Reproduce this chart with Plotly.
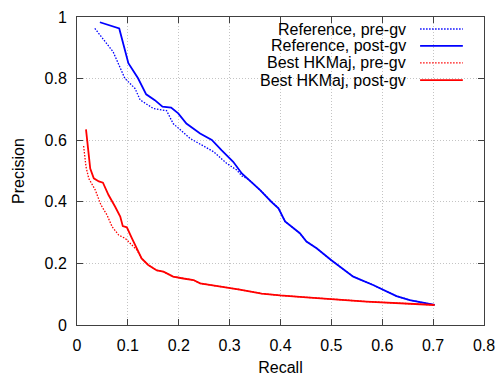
import plotly.graph_objects as go

# Precision/recall curves
ref_post_recall = [0.045, 0.083, 0.101, 0.120, 0.136, 0.153, 0.168, 0.185, 0.199, 0.215,
                   0.242, 0.265, 0.284, 0.307, 0.324, 0.337, 0.360, 0.382, 0.396, 0.409,
                   0.418, 0.438, 0.451, 0.471, 0.500, 0.543, 0.582, 0.602, 0.628, 0.654, 0.703]
ref_post_prec = [0.983, 0.963, 0.850, 0.801, 0.749, 0.730, 0.709, 0.706, 0.687, 0.654,
                 0.622, 0.601, 0.568, 0.530, 0.492, 0.473, 0.438, 0.400, 0.379, 0.336,
                 0.325, 0.298, 0.271, 0.249, 0.210, 0.157, 0.130, 0.114, 0.094, 0.081, 0.065]

ref_pre_recall = [0.035, 0.071, 0.094, 0.114, 0.124, 0.150, 0.176, 0.189, 0.222, 0.268,
                  0.294, 0.314, 0.324, 0.337, 0.360, 0.382, 0.396, 0.409, 0.418, 0.438,
                  0.451, 0.471, 0.500, 0.543, 0.582, 0.602, 0.628, 0.654, 0.703]
ref_pre_prec = [0.963, 0.887, 0.801, 0.768, 0.731, 0.703, 0.696, 0.654, 0.606, 0.563,
                0.525, 0.503, 0.484, 0.473, 0.438, 0.400, 0.379, 0.336, 0.325, 0.298,
                0.271, 0.249, 0.210, 0.157, 0.130, 0.114, 0.094, 0.081, 0.065]

hk_post_recall = [0.0177, 0.026, 0.033, 0.043, 0.051, 0.062, 0.075, 0.085, 0.090, 0.098,
                  0.108, 0.118, 0.127, 0.140, 0.157, 0.170, 0.189, 0.209, 0.229, 0.242,
                  0.274, 0.301, 0.320, 0.363, 0.399, 0.451, 0.497, 0.569, 0.703]
hk_post_prec = [0.635, 0.508, 0.476, 0.466, 0.462, 0.422, 0.384, 0.352, 0.321, 0.317,
                0.281, 0.249, 0.216, 0.195, 0.177, 0.173, 0.157, 0.151, 0.146, 0.135,
                0.127, 0.122, 0.115, 0.102, 0.096, 0.090, 0.084, 0.076, 0.065]

hk_pre_recall = [0.013, 0.0177, 0.023, 0.036, 0.047, 0.059, 0.069, 0.082, 0.095, 0.108,
                 0.118, 0.127, 0.140, 0.157, 0.170, 0.189, 0.209, 0.229, 0.242, 0.274,
                 0.301, 0.320, 0.363, 0.399, 0.451, 0.497, 0.569, 0.703]
hk_pre_prec = [0.581, 0.514, 0.476, 0.438, 0.390, 0.357, 0.319, 0.292, 0.281, 0.260,
               0.243, 0.216, 0.195, 0.177, 0.173, 0.157, 0.151, 0.146, 0.135, 0.127,
               0.122, 0.115, 0.102, 0.096, 0.090, 0.084, 0.076, 0.065]

x_ticks = [0, 0.1, 0.2, 0.3, 0.4, 0.5, 0.6, 0.7, 0.8]
x_labels = ["0", "0.1", "0.2", "0.3", "0.4", "0.5", "0.6", "0.7", "0.8"]
y_ticks = [0, 0.2, 0.4, 0.6, 0.8, 1]
y_labels = ["0", "0.2", "0.4", "0.6", "0.8", "1"]

BLUE = "#0000ff"
RED = "#ff0000"
FONT = "Liberation Sans, Arial, sans-serif"
DOTTED = "1.5px,1.5px"

series = [
    ("Reference, pre-gv", ref_pre_recall, ref_pre_prec, BLUE, DOTTED),
    ("Reference, post-gv", ref_post_recall, ref_post_prec, BLUE, "solid"),
    ("Best HKMaj, pre-gv", hk_pre_recall, hk_pre_prec, RED, DOTTED),
    ("Best HKMaj, post-gv", hk_post_recall, hk_post_prec, RED, "solid"),
]


def line_style(color, dash):
    return dict(color=color, dash=dash, width=1.3 if dash == DOTTED else 1.8)


fig = go.Figure()
for name, xs, ys, color, dash in series:
    fig.add_trace(go.Scatter(x=xs, y=ys, mode="lines", name=name,
                             line=line_style(color, dash), showlegend=False))

axis_common = dict(
    showgrid=True, gridcolor="#c4c4c4", griddash="1px,2px", gridwidth=1,
    showline=True, linecolor="#404040", linewidth=1, mirror="ticks",
    ticks="inside", ticklen=6, tickcolor="#404040",
    zeroline=False, automargin=False,
    tickfont=dict(family=FONT, size=16, color="#000"),
)

fig.update_xaxes(range=[0, 0.8], tickvals=x_ticks, ticktext=x_labels,
                 title=dict(text="Recall", font=dict(family=FONT, size=16, color="#000")),
                 ticklabelstandoff=6, **axis_common)
fig.update_yaxes(range=[0, 1], tickvals=y_ticks, ticktext=y_labels,
                 title=dict(text="Precision", font=dict(family=FONT, size=16, color="#000")),
                 ticklabelstandoff=6, **axis_common)

# Key box in the upper right, gnuplot style: text right-aligned, sample to its right
shapes = [dict(type="rect", xref="paper", yref="paper", x0=0.339, x1=0.969, y0=0.775, y1=0.99,
               fillcolor="white", line=dict(width=0), layer="between")]
annotations = []
row_y = [0.961, 0.906, 0.851, 0.795]
for (name, xs, ys, color, dash), yy in zip(series, row_y):
    annotations.append(dict(text=name, x=0.813, y=yy, xref="paper", yref="paper",
                            xanchor="right", yanchor="middle", showarrow=False,
                            font=dict(family=FONT, size=16, color="#000")))
    shapes.append(dict(type="line", xref="paper", yref="paper", x0=0.843, x1=0.948,
                       y0=yy, y1=yy, line=line_style(color, dash), layer="above"))

fig.update_layout(
    width=496, height=376,
    margin=dict(l=77, r=12, t=17, b=51),
    paper_bgcolor="white", plot_bgcolor="white",
    shapes=shapes, annotations=annotations,
    font=dict(family=FONT),
)

fig.write_html("out.html")
